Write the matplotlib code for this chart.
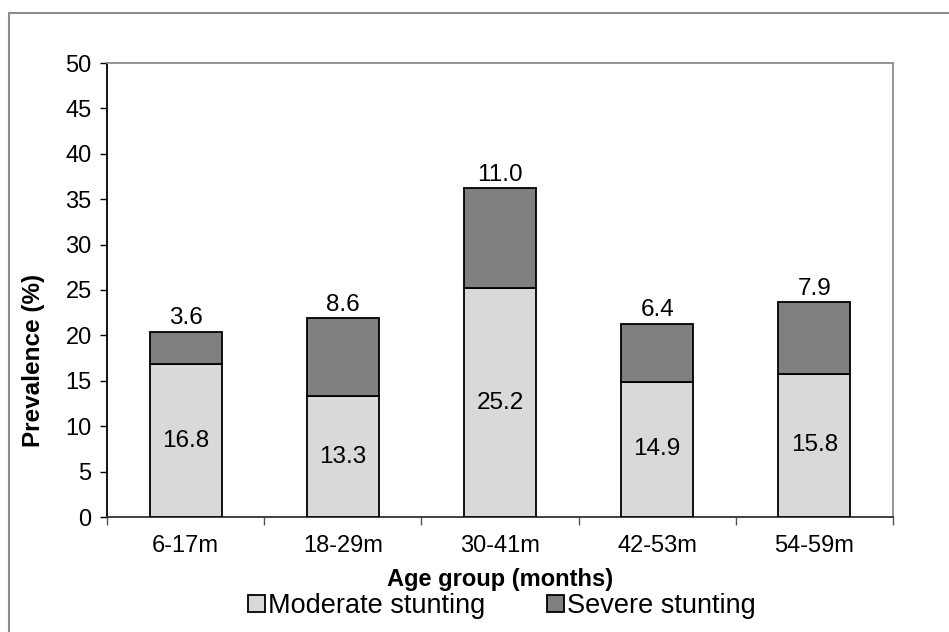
import numpy as np
import matplotlib.pyplot as plt
from matplotlib.patches import Rectangle

plt.rcParams['font.family'] = ['Liberation Sans', 'DejaVu Sans']

age_groups = ['6-17m', '18-29m', '30-41m', '42-53m', '54-59m']
moderate = [16.8, 13.3, 25.2, 14.9, 15.8]
severe = [3.6, 8.6, 11.0, 6.4, 7.9]

light = '#d9d9d9'
dark = '#808080'

fig = plt.figure(figsize=(9.49, 6.32), dpi=100)
# outer chart frame
fig.patches.append(Rectangle((8.5 / 949, -0.05), 1.0, 1.05 - 12.5 / 632,
                             transform=fig.transFigure, fill=False,
                             edgecolor='#8c8c8c', linewidth=1.5))

ax = fig.add_axes([107 / 949, 115 / 632, 786 / 949, 454 / 632])
x = np.arange(len(age_groups))
w = 0.458
total = np.array(moderate) + np.array(severe)

b1 = ax.bar(x, moderate, w, color=light, edgecolor='black', linewidth=1.3,
            label='Moderate stunting', zorder=3)
b2 = ax.bar(x, severe, w, bottom=moderate, color=dark, edgecolor='black',
            linewidth=1.3, label='Severe stunting', zorder=3)

for i in range(len(x)):
    ax.text(x[i], moderate[i] / 2, f'{moderate[i]:.1f}', ha='center', va='center',
            fontsize=17.5, zorder=4)
    ax.text(x[i], total[i] + 0.25, f'{severe[i]:.1f}', ha='center', va='bottom',
            fontsize=17.5, zorder=4)

ax.set_xlim(-0.5, len(x) - 0.5)
ax.set_ylim(0, 50)
ax.set_yticks(np.arange(0, 51, 5))
ax.tick_params(axis='y', labelsize=17, length=5, width=1, direction='out', pad=6)

# tick marks between categories, labels at centres
ax.set_xticks(np.arange(-0.5, len(x), 1))
ax.set_xticklabels([])
ax.set_xticks(x, minor=True)
ax.set_xticklabels(age_groups, minor=True)
ax.tick_params(axis='x', which='major', length=6, width=1, color='#555555')
ax.tick_params(axis='x', which='minor', length=0, labelsize=17, pad=13)

for side in ['top', 'right']:
    ax.spines[side].set_color('#8c8c8c')
    ax.spines[side].set_linewidth(1.3)
ax.spines['left'].set_color('black')
ax.spines['bottom'].set_color('#333333')
for side in ['left', 'bottom']:
    ax.spines[side].set_linewidth(1.3)

ax.set_ylabel('Prevalence (%)', fontsize=17.5, fontweight='bold')
ax.yaxis.set_label_coords(-0.079, 0.344)
ax.set_xlabel('Age group (months)', fontsize=17, fontweight='bold', labelpad=8)

fig.legend(handles=[b1, b2], loc='center', bbox_to_anchor=(502 / 949, 1 - 606 / 632),
           ncol=2, frameon=False, fontsize=19.5, handlelength=0.6, handleheight=0.6,
           handletextpad=0.12, columnspacing=2.3, borderaxespad=0)

fig.savefig('out.png', dpi=100)
